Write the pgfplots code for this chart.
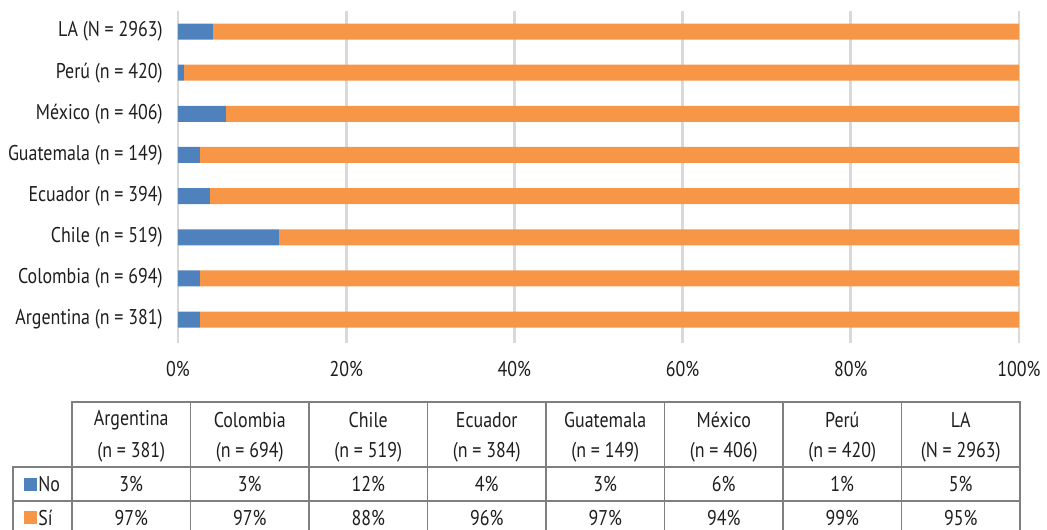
\documentclass[border=0pt]{standalone}
\usepackage{pgfplots}
\pgfplotsset{compat=1.18}
\usepackage{pgfplotstable}
\usepackage{fontspec}
\setmainfont{PT Sans}[FakeStretch=0.84]
\definecolor{cblue}{HTML}{4F81BD}
\definecolor{corange}{HTML}{F79646}
\definecolor{gridc}{HTML}{D9D9D9}
\definecolor{tabc}{HTML}{7F7F7F}
\definecolor{txt}{HTML}{1E1E1E}

\pgfplotstableread{
idx no si
0 2.6 97.4
1 2.6 97.4
2 12.0 88.0
3 3.8 96.2
4 2.6 97.4
5 5.7 94.3
6 0.7 99.3
7 4.2 95.8
}\datatab

\begin{document}
\fontsize{16}{19}\selectfont\color{txt}%
\begin{tikzpicture}
\begin{axis}[
  at={(133.5pt,-257.25pt)}, anchor=south west,
  width=630.75pt, height=249pt, scale only axis,
  xbar stacked, bar width=12pt,
  xmin=0, xmax=100, ymin=-0.57, ymax=7.5,
  axis line style={draw=none},
  xtick={0,20,...,100},
  xticklabels={0\%,20\%,40\%,60\%,80\%,100\%},
  xmajorgrids, major grid style={gridc, line width=2pt},
  ytick={0,...,7},
  yticklabels={Argentina (n = 381),Colombia (n = 694),Chile (n = 519),Ecuador (n = 394),Guatemala (n = 149),México (n = 406),Perú (n = 420),LA (N = 2963)},
  tick style={draw=none},
  xticklabel style={yshift=-8pt, text=txt},
  yticklabel style={xshift=-6pt, text=txt},
]
\addplot[fill=cblue, draw=none] table[x=no, y=idx]{\datatab};
\addplot[fill=corange, draw=none] table[x=si, y=idx]{\datatab};
\end{axis}
\begin{scope}[x=0.75pt, y=-0.75pt]
  \draw[tabc, line width=1.1pt] (72,402) rectangle (1020,467);
  \draw[tabc, line width=1.1pt] (13,467) rectangle (1020,535);
  \draw[tabc, line width=1.1pt] (13,501) -- (1020,501);
  \foreach \k in {1,...,7}{
    \draw[tabc, line width=1.1pt] ({72+118.5*\k},402) -- ({72+118.5*\k},535);
  }
  \draw[tabc, line width=1.1pt] (72,467) -- (72,535);
  \foreach \n/\m/\a/\b [count=\i from 0] in {Argentina/{(n = 381)}/3\%/97\%, Colombia/{(n = 694)}/3\%/97\%, Chile/{(n = 519)}/12\%/88\%, Ecuador/{(n = 384)}/4\%/96\%, Guatemala/{(n = 149)}/3\%/97\%, México/{(n = 406)}/6\%/94\%, Perú/{(n = 420)}/1\%/99\%, LA/{(N = 2963)}/5\%/95\%}{
    \node at ({72+118.5*(\i+0.5)},420) {\n};
    \node at ({72+118.5*(\i+0.5)},452) {\m};
    \node at ({72+118.5*(\i+0.5)},484) {\a};
    \node at ({72+118.5*(\i+0.5)},518) {\b};
  }
  \fill[cblue] (24,478) rectangle (37,491);
  \fill[corange] (24,511) rectangle (37,524);
  \node[anchor=west, inner sep=0pt] at (38,484) {No};
  \node[anchor=west, inner sep=0pt] at (38,518) {Sí};
\end{scope}
\pgfresetboundingbox
\useasboundingbox (0,0) rectangle (785.25pt,-397.5pt);
\end{tikzpicture}
\end{document}
